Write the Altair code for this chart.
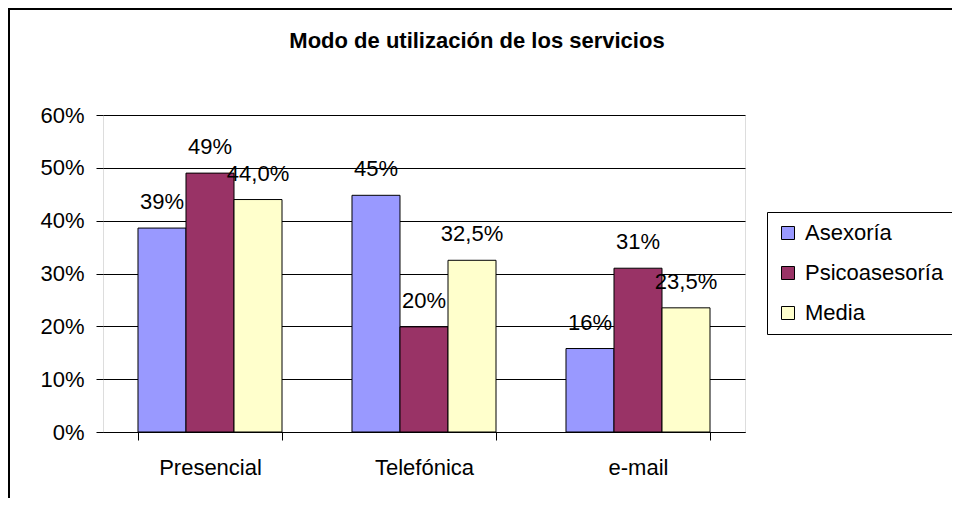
import altair as alt
import pandas as pd

categories = ["Presencial", "Telefónica", "e-mail"]
series = ["Asexoría", "Psicoasesoría", "Media"]
asexoria = [0.386, 0.448, 0.158]
psicoasesoria = [0.490, 0.199, 0.310]
media = [0.440, 0.325, 0.235]
labels_asexoria = ["39%", "45%", "16%"]
labels_psico = ["49%", "20%", "31%"]
labels_media = ["44,0%", "32,5%", "23,5%"]
colors = ["#9999FF", "#993366", "#FFFFCC"]
title_text = "Modo de utilización de los servicios"

rows = []
for i, c in enumerate(categories):
    rows.append({"cat": c, "serie": series[0], "value": asexoria[i], "label": labels_asexoria[i]})
    rows.append({"cat": c, "serie": series[1], "value": psicoasesoria[i], "label": labels_psico[i]})
    rows.append({"cat": c, "serie": series[2], "value": media[i], "label": labels_media[i]})
df = pd.DataFrame(rows)

FONT = "Liberation Sans"

x = alt.X("cat:N", sort=categories, title=None,
          scale=alt.Scale(paddingInner=0.327, paddingOuter=0.1635),
          axis=alt.Axis(labelAngle=0, tickBand="extent", labelFontSize=22,
                        labelPadding=17, tickSize=8, grid=False,
                        domainColor="black", tickColor="black", labelColor="black"))
xo = alt.XOffset("serie:N", sort=series)
y = alt.Y("value:Q", title=None,
          scale=alt.Scale(domain=[0, 0.6], nice=False),
          axis=alt.Axis(format=".0%", values=[0, 0.1, 0.2, 0.3, 0.4, 0.5, 0.6],
                        labelFontSize=22, labelPadding=12, tickSize=7,
                        tickColor="black", labelColor="black", domain=False,
                        grid=True, gridColor="black", gridWidth=1, gridOpacity=1))

bars = alt.Chart(df).mark_bar(stroke="black", strokeWidth=1).encode(
    x=x, xOffset=xo, y=y,
    color=alt.Color("serie:N", sort=series, title=None,
                    scale=alt.Scale(domain=series, range=colors),
                    legend=alt.Legend(orient="none", legendX=664, legendY=97,
                                      symbolType="square", symbolSize=169,
                                      symbolStrokeColor="black", symbolStrokeWidth=1,
                                      symbolOpacity=1,
                                      labelFontSize=22, labelFont=FONT, labelColor="black",
                                      labelOffset=6, rowPadding=18,
                                      strokeColor="black", fillColor="white",
                                      padding=10, labelLimit=400))
)

texts = alt.Chart(df).mark_text(baseline="alphabetic", align="center", dy=-19,
                                fontSize=22, font=FONT, color="black").encode(
    x=x, xOffset=xo, y=y, text="label:N"
)

one = pd.DataFrame({"t": [title_text]})
title = alt.Chart(one).mark_text(baseline="alphabetic", align="center", fontSize=22,
                                 font=FONT, fontWeight="bold", color="black").encode(
    x=alt.value(374), y=alt.value(-67), text="t:N")

frame_top = alt.Chart(one).mark_rule(color="black", strokeWidth=2, clip=False).encode(
    x=alt.value(-95), x2=alt.value(900), y=alt.value(-106))
frame_left = alt.Chart(one).mark_rule(color="black", strokeWidth=2, clip=False).encode(
    x=alt.value(-94), y=alt.value(-107), y2=alt.value(420))

chart = alt.layer(bars, texts, title, frame_top, frame_left).properties(
    width=642, height=317,
    autosize=alt.AutoSizeParams(type="none"),
    padding={"left": 95, "top": 107, "right": 207, "bottom": 66},
).configure_view(fill="#C0C0C0", stroke="#808080", strokeWidth=1
).configure_axis(labelFont=FONT
).configure(background="white")

chart.save("out.html", embed_options={"renderer": "svg", "actions": False})
